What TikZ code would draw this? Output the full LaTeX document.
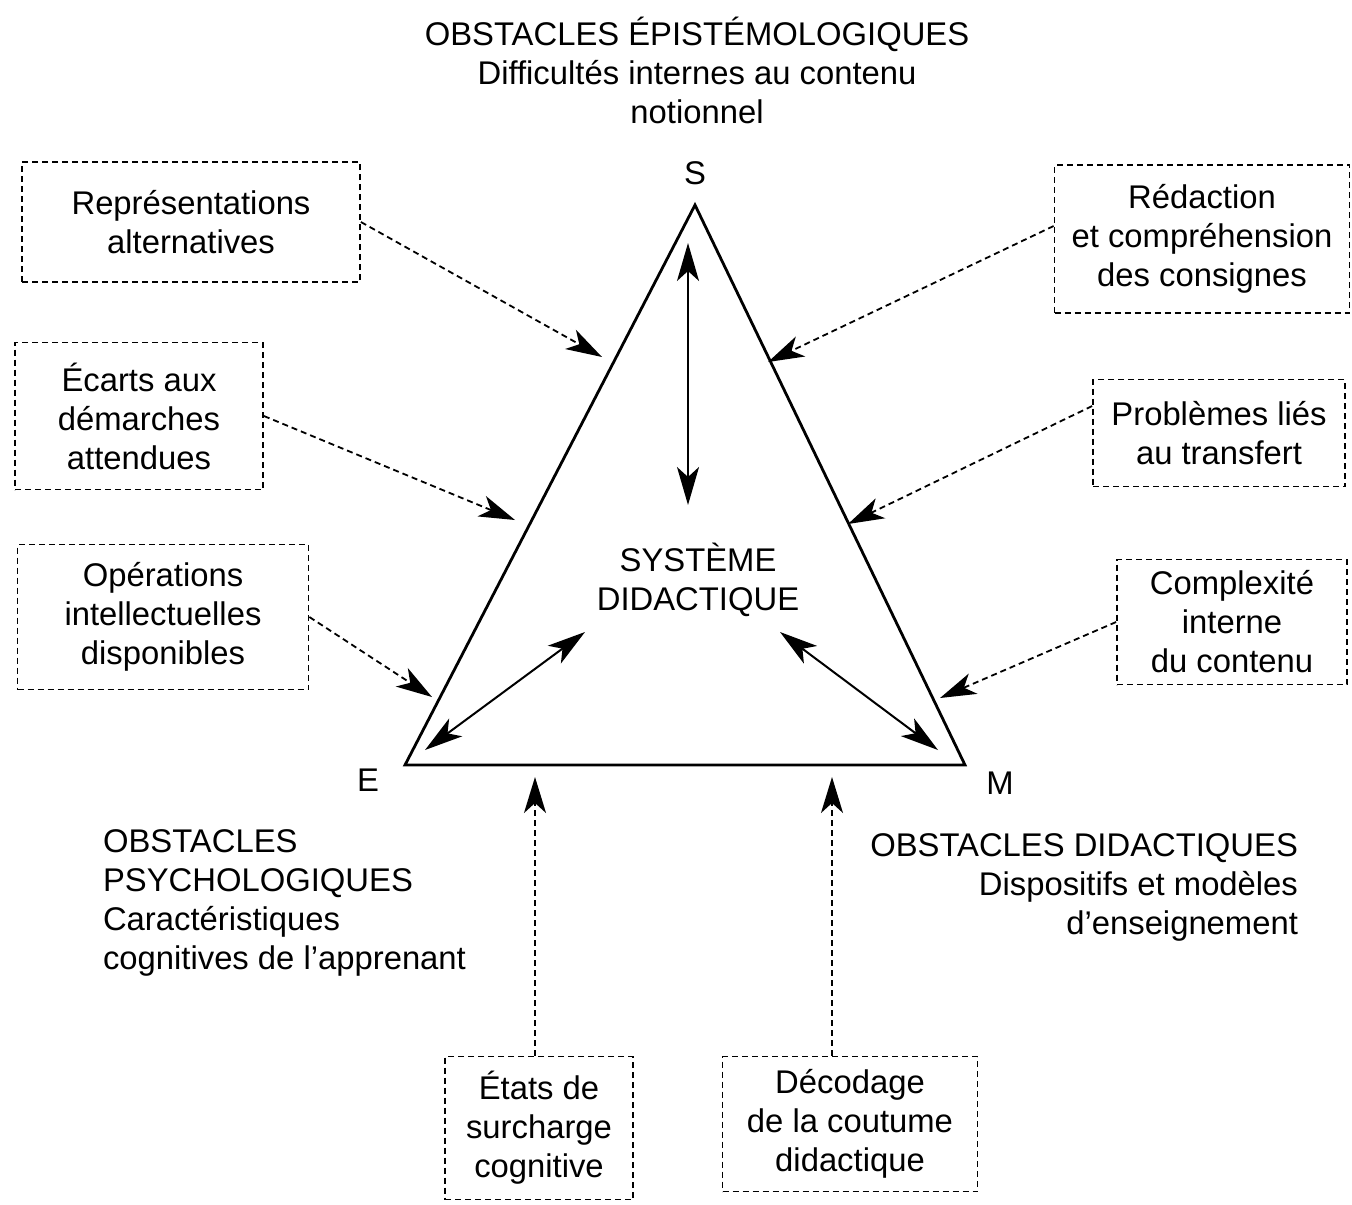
\documentclass[tikz,border=0pt]{standalone}
\usepackage{fontspec}
\setmainfont{Liberation Sans}
\usetikzlibrary{arrows.meta}

\begin{document}
\begin{tikzpicture}[x=0.5pt, y=-0.5pt,
    font=\fontsize{16.4}{19.5}\selectfont,
    obst/.style={draw, dash pattern=on 3pt off 2pt, line width=0.9pt, align=center, inner sep=0pt},
    cause/.style={-{Stealth[length=18pt,width=11pt,inset=5pt]}, dash pattern=on 3pt off 2pt, line width=0.9pt},
    link/.style={{Stealth[length=19pt,width=11pt,inset=5pt]}-{Stealth[length=19pt,width=11pt,inset=5pt]}, line width=1pt}]
    \useasboundingbox (0,0) rectangle (1352,1204);

    % Triangle
    \coordinate (S) at (695,205);
    \coordinate (E) at (405,765);
    \coordinate (M) at (965,765);
    \draw[line width=1.4pt, line join=miter] (S) -- (E) -- (M) -- cycle;
    \node (labS) at (695,173) {S};
    \node (labE) at (368,780) {E};
    \node (labM) at (1000,783) {M};

    % Didactic system
    \node[align=center] (sys) at (698,580) {SYSTÈME\\DIDACTIQUE};
    \coordinate (sysN) at (688,505);
    \coordinate (sysW) at (585,632);
    \coordinate (sysE) at (780,632);
    \coordinate (tipS) at (688,243);
    \coordinate (tipE) at (425,750);
    \coordinate (tipM) at (938,750);
    \draw[link] (sysN) -- (tipS);
    \draw[link] (sysW) -- (tipE);
    \draw[link] (sysE) -- (tipM);

    % Obstacle families
    \node[align=center] (epist) at (697,70) {OBSTACLES ÉPISTÉMOLOGIQUES\\Difficultés internes au contenu\\notionnel};
    \node[align=left, anchor=west] (psych) at (96,903) {OBSTACLES\\PSYCHOLOGIQUES\\Caractéristiques\\cognitives de l’apprenant};
    \node[align=right, anchor=east] (didac) at (1305,887) {OBSTACLES DIDACTIQUES\\Dispositifs et modèles\\d’enseignement};

    % Left boxes
    \node[obst, minimum width=169pt, minimum height=60pt] (repr) at (191,222) {Représentations\\alternatives};
    \node[obst, minimum width=124pt, minimum height=73.5pt] (ecart) at (139,416) {Écarts aux\\démarches\\attendues};
    \node[obst, minimum width=145.5pt, minimum height=72.5pt] (oper) at (163,617) {Opérations\\intellectuelles\\disponibles};

    % Right boxes
    \node[obst, minimum width=147.5pt, minimum height=74pt] (redac) at (1202,239) {Rédaction\\et compréhension\\des consignes};
    \node[obst, minimum width=126pt, minimum height=53.5pt] (transf) at (1219,433) {Problèmes liés\\au transfert};
    \node[obst, minimum width=115pt, minimum height=62.5pt] (compl) at (1232,622) {Complexité\\interne\\du contenu};

    % Bottom boxes
    \node[obst, minimum width=94pt, minimum height=71.5pt] (surch) at (539,1128) {États de\\surcharge\\cognitive};
    \node[obst, minimum width=127.5pt, minimum height=67.5pt] (decod) at (850,1124) {Décodage\\de la coutume\\didactique};

    % Arrows to the triangle
    \coordinate (t1) at (602,357);
    \coordinate (t2) at (515,520);
    \coordinate (t3) at (432,697);
    \coordinate (t4) at (768,362);
    \coordinate (t5) at (848,524);
    \coordinate (t6) at (940,698);
    \coordinate (t7) at (535,777);
    \coordinate (t8) at (832,777);
    \draw[cause] (repr.east) -- (t1);
    \draw[cause] (ecart.east) -- (t2);
    \draw[cause] (oper.east) -- (t3);
    \draw[cause] (redac.175) -- (t4);
    \draw[cause] (transf.168) -- (t5);
    \draw[cause] (compl.west) -- (t6);
    \draw[cause] (surch.north -| t7) -- (t7);
    \draw[cause] (decod.north -| t8) -- (t8);
\end{tikzpicture}
\end{document}
